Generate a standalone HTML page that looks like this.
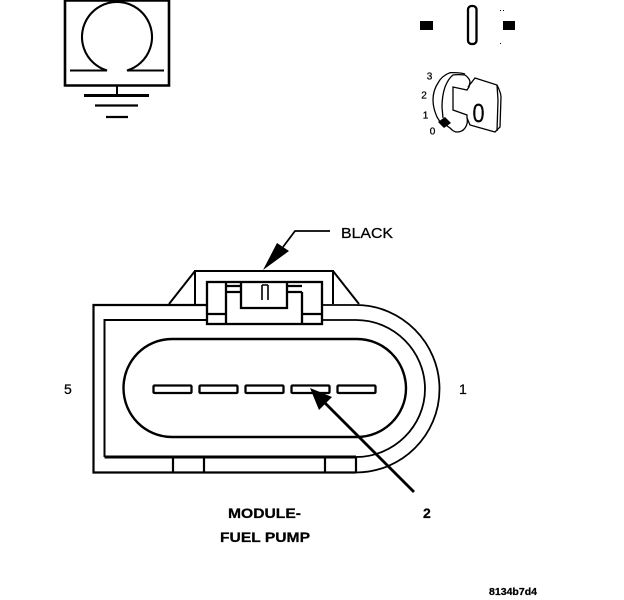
<!DOCTYPE html>
<html><head><meta charset="utf-8"><style>
html,body{margin:0;padding:0;background:#fff}
svg{display:block}
text{font-family:"Liberation Sans",sans-serif;fill:#000;stroke:#000;stroke-width:.25}
</style></head><body>
<svg width="624" height="600" viewBox="0 0 624 600" xmlns="http://www.w3.org/2000/svg">
<g fill="none" stroke="#000" stroke-width="2.300">
<!-- omega box -->
<path d="M65 0V85.500H169V0M64 0.500H170" stroke-width="2.600"/>
<path d="M70 70.500H102Q105 70.500 107 70.500A35 35 0 1 1 127 70.500H164" stroke-width="2.100"/>
<path d="M117 86V95" stroke-width="2"/>
<path d="M84 95.500H149" stroke-width="3"/>
<path d="M95 105.500H138"/>
<path d="M106 117H128"/>
<!-- slot -->
<rect x="468" y="6" width="8.500" height="38" rx="3.500"/>
<!-- key -->
<g stroke-width="1.300">
<path d="M465 74C460 72.500 455 72.500 450 72.700C444 75 440 79 438 83C434 89 433 94 433 100C433 107 435 112 437 117L442 125"/>
<path d="M465 75C460 74.500 456 74.500 453 75C449 78 447 82 445 87C443 93 442 100 442 107L443 118"/>
<path d="M465 75C468 77 470 80 470 82L469 87L467 90L453 87L453 110L467 115L467 118C468 122 467 125 465 128C463 131 460 132 457 132C454 132 452 130 450 128L443 123"/>
<path d="M468 87L475 78L497 85C499 89 501 93 501 97L500 127L495 132L470 125L467 118"/>
<path d="M497 85L498 100L497 131"/>
</g>
<!-- connector -->
<path d="M195 304V271H333V304M195 271L169 304M333 271L359 304" stroke-width="2"/>
<rect x="207" y="282" width="115" height="42"/>
<path d="M226 282V324M302 292V324M207 314H226M302 314H322"/>
<path d="M241 282V308H287V282"/>
<path d="M226 286H241M226 292H241M287 286H302M287 292H302"/>
<path d="M262 285V300M268 285V300M262 285H268" stroke-width="1.600"/>
<!-- body -->
<path d="M207 305H93.500V472.500H356" stroke-width="2.200"/>
<path d="M356 472.500C402 472.500 439.500 435 439.500 389C439.500 343 402 305 356 305H322" stroke-width="1.800"/>
<path d="M207 320H104.500V457" stroke-width="2"/>
<path d="M356 457C394 457 425 426 425 389C425 351 394 320 356 320H322" stroke-width="1.800"/>
<path d="M104.500 457H356" stroke-width="3"/>
<path d="M173 457V472M325 457V472M356 457V472M204 457V472" stroke-width="2.200"/>
<path d="M172 339H357C384 339 406 361 406 388.500C406 415 384 437 357 437H172C145 437 123.500 415 123.500 388C123.500 361 145 339 172 339Z" stroke-width="2.400"/>
<rect x="153.500" y="385.500" width="38" height="7.500" rx="1"/>
<rect x="199.500" y="385.500" width="38" height="7.500" rx="1"/>
<rect x="245.500" y="385.500" width="38" height="7.500" rx="1"/>
<rect x="291.500" y="385.500" width="38" height="7.500" rx="1"/>
<rect x="337.500" y="385.500" width="38" height="7.500" rx="1"/>
<!-- arrows -->
<path d="M414 492L324 402" stroke-width="2.800"/>
<path d="M283 247L295 231H330" stroke-width="1.800"/>
</g>
<g fill="#000">
<rect x="420" y="21" width="13" height="9"/>
<rect x="503" y="21" width="12" height="9"/>
<rect x="500" y="10" width="1" height="1"/><rect x="503" y="10" width="1" height="1"/><rect x="500" y="43" width="1" height="1"/>
<path d="M438 122L445 117L451 123L444 128Z"/>
<path d="M310 388L319 410L332 397Z"/>
<path d="M263 270L277 243L289 251Z"/>
</g>
<text x="341" y="238" font-size="15" textLength="52" lengthAdjust="spacingAndGlyphs">BLACK</text>
<text x="64" y="394" font-size="14">5</text>
<text x="459" y="394" font-size="14">1</text>
<text x="228" y="518" font-size="14" font-weight="bold" textLength="73" lengthAdjust="spacingAndGlyphs">MODULE-</text>
<text x="220" y="542" font-size="14" font-weight="bold" textLength="90" lengthAdjust="spacingAndGlyphs">FUEL PUMP</text>
<text x="423" y="518" font-size="14" font-weight="bold">2</text>
<text x="489" y="595" font-size="10" font-weight="bold" textLength="48" lengthAdjust="spacingAndGlyphs">8134b7d4</text>
<text x="429.500" y="79.500" font-size="10" text-anchor="middle">3</text>
<text x="424" y="98.500" font-size="10" text-anchor="middle">2</text>
<text x="425.500" y="118.500" font-size="10" text-anchor="middle">1</text>
<text x="432.500" y="134.500" font-size="10" text-anchor="middle">0</text>
<text x="472.500" y="122" font-size="26" textLength="12" lengthAdjust="spacingAndGlyphs">0</text>
</svg>
</body></html>
